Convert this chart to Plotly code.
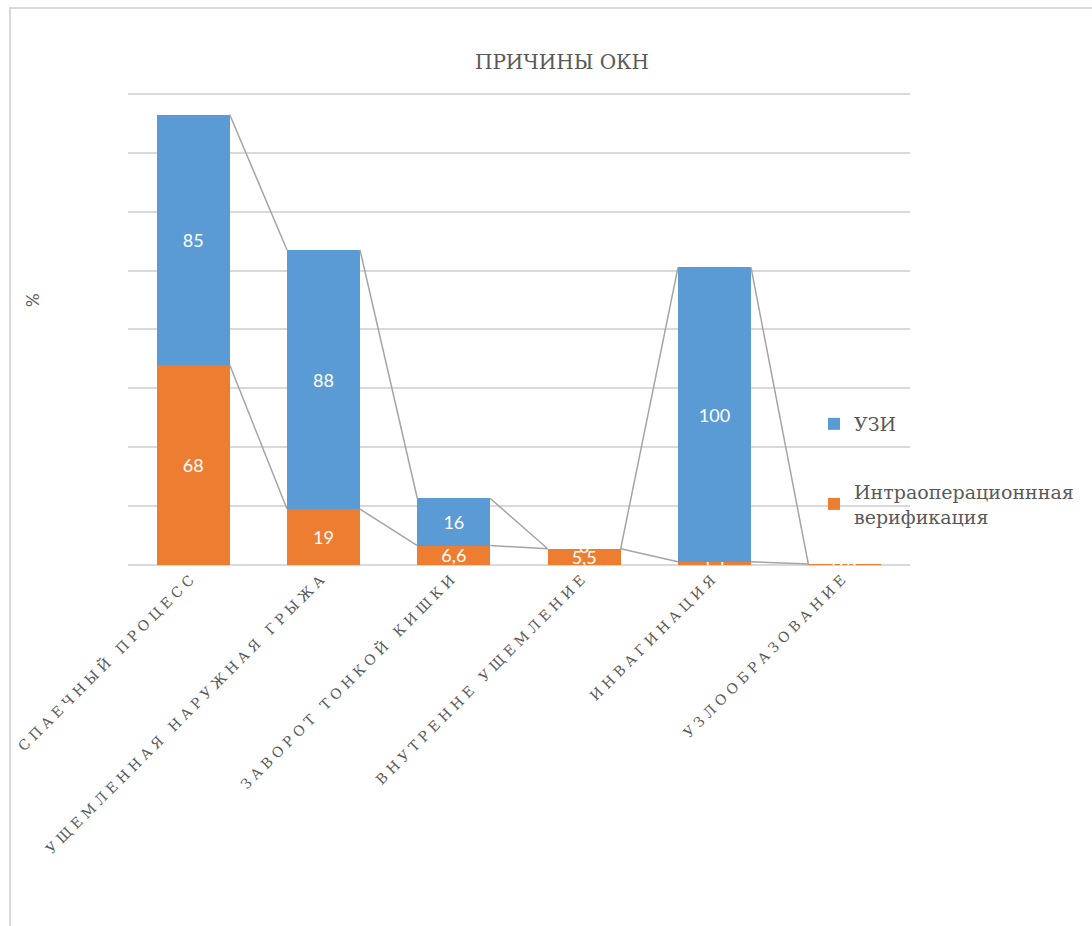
import plotly.graph_objects as go

# Causes of acute intestinal obstruction (ОКН), stacked by verification method
categories = [
    "СПАЕЧНЫЙ ПРОЦЕСС",
    "УЩЕМЛЕННАЯ НАРУЖНАЯ ГРЫЖА",
    "ЗАВОРОТ ТОНКОЙ КИШКИ",
    "ВНУТРЕННЕ УЩЕМЛЕНИЕ",
    "ИНВАГИНАЦИЯ",
    "УЗЛООБРАЗОВАНИЕ",
]
intraop = [68, 19, 6.6, 5.5, 1.1, 0.3]
uzi = [85, 88, 16, 0, 100, 0]

series_names = ["УЗИ", "Интраоперационнная<br>верификация"]

BLUE = "#5b9bd5"
ORANGE = "#ed7d31"
GRID = "#d9d9d9"
TEXT = "#595959"
SERIES_LINE = "#a5a5a5"
SERIF = "DejaVu Serif"
LABEL_FONT = dict(family="Lato", size=18, color="white")

BAR_WIDTH = 0.56
xs = list(range(len(categories)))


def fmt(v):
    return ("%g" % v).replace(".", ",")


fig = go.Figure()

fig.add_trace(go.Bar(
    x=xs, y=intraop, name=series_names[1], legendgroup="b", legendrank=2,
    marker=dict(color=ORANGE, line=dict(width=0)),
    width=BAR_WIDTH,
    text=[fmt(v) for v in intraop], textposition="inside",
    insidetextanchor="middle", textangle=0, textfont=LABEL_FONT,
))
fig.add_trace(go.Bar(
    x=xs, y=uzi, name=series_names[0], legendgroup="a", legendrank=1,
    marker=dict(color=BLUE, line=dict(width=0)),
    width=BAR_WIDTH,
    text=[fmt(v) for v in uzi], textposition="inside",
    insidetextanchor="middle", textangle=0, textfont=LABEL_FONT,
))

# Series lines joining the top corners of neighbouring stack segments
tops_orange = intraop
tops_blue = [a + b for a, b in zip(intraop, uzi)]
half = BAR_WIDTH / 2
for tops in (tops_orange, tops_blue):
    lx, ly = [], []
    for i in range(len(xs) - 1):
        lx += [xs[i] + half, xs[i + 1] - half, None]
        ly += [tops[i], tops[i + 1], None]
    fig.add_trace(go.Scatter(
        x=lx, y=ly, mode="lines", showlegend=False, hoverinfo="skip",
        line=dict(color=SERIES_LINE, width=1.5),
    ))

# Value labels of empty УЗИ segments sit on top of the stack
zero_idx = [i for i, v in enumerate(uzi) if v == 0]
fig.add_trace(go.Scatter(
    x=[xs[i] for i in zero_idx], y=[tops_blue[i] for i in zero_idx],
    mode="text", text=[fmt(uzi[i]) for i in zero_idx],
    textposition="middle center", textfont=LABEL_FONT,
    showlegend=False, hoverinfo="skip", cliponaxis=True,
))

W, H = 1092, 926
ML, MR, MT, MB = 128, 182, 35, 361
pw, ph = W - ML - MR, H - MT - MB


def px_x(px):
    return (px - ML) / pw


def px_y(py):
    return (H - MB - py) / ph


fig.update_layout(
    width=W, height=H,
    margin=dict(l=ML, r=MR, t=MT, b=MB, autoexpand=False),
    paper_bgcolor="white", plot_bgcolor="white",
    barmode="stack",
    separators=", ",
    showlegend=True,
    uniformtext=dict(minsize=18, mode="show"),
    title=dict(
        text="ПРИЧИНЫ ОКН",
        font=dict(family=SERIF, size=20, color=TEXT),
        x=562 / W, xanchor="center", y=1 - 62 / H, yanchor="middle",
    ),
    legend=dict(
        x=px_x(814), xanchor="left", y=px_y(405), yanchor="top",
        traceorder="grouped", tracegroupgap=40,
        font=dict(family=SERIF, size=19, color=TEXT),
        bgcolor="rgba(0,0,0,0)",
    ),
    xaxis=dict(
        range=[-0.5, len(categories) - 0.5],
        tickmode="array", tickvals=xs, ticktext=categories,
        tickangle=-45, ticks="", showgrid=False, zeroline=False,
        showline=False, automargin=False,
        tickfont=dict(family=SERIF, size=14, color=TEXT),
    ),
    yaxis=dict(
        range=[0, 180], dtick=20, showticklabels=False, ticks="",
        showgrid=True, gridcolor=GRID, gridwidth=1.5,
        zeroline=True, zerolinecolor=GRID, zerolinewidth=1.5,
        showline=False, automargin=False,
    ),
    annotations=[
        dict(
            text="%", textangle=-90, showarrow=False,
            xref="paper", yref="paper", x=px_x(32), y=px_y(300),
            xanchor="center", yanchor="middle",
            font=dict(family="Lato", size=17, color=TEXT),
        )
    ],
    shapes=[
        dict(
            type="rect", xref="paper", yref="paper",
            x0=px_x(10), y0=px_y(8), x1=px_x(W + 20), y1=px_y(H + 20),
            line=dict(color=GRID, width=2), fillcolor="rgba(0,0,0,0)",
            layer="below",
        )
    ],
)

# Widen the spacing between letters of the category labels
spacing_js = (
    "document.querySelectorAll('g.xtick text').forEach(function(t){"
    "t.setAttribute('letter-spacing','4.5px');});"
)

fig.write_html("out.html", post_script=spacing_js)
